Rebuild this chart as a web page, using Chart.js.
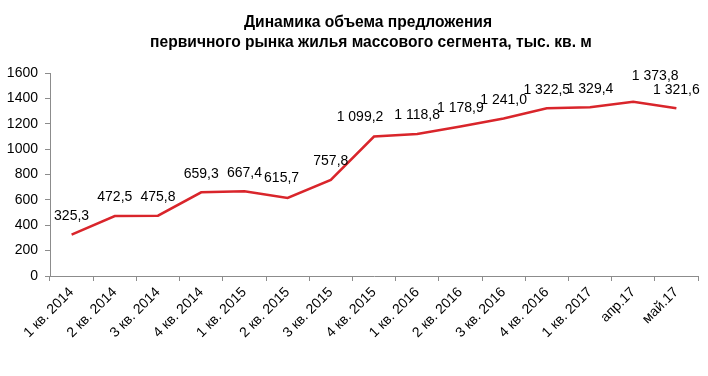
<!DOCTYPE html>
<html>
<head>
<meta charset="utf-8">
<script src="https://cdn.jsdelivr.net/npm/chart.js@4"></script>
<style>
  html, body { margin: 0; padding: 0; background: #fff; }
  #wrap { width: 708px; height: 376px; }
</style>
</head>
<body>
<div id="wrap"><canvas id="offerChart"></canvas></div>
<script>
// Данные графика
const periods = [
  "1 кв. 2014", "2 кв. 2014", "3 кв. 2014", "4 кв. 2014",
  "1 кв. 2015", "2 кв. 2015", "3 кв. 2015", "4 кв. 2015",
  "1 кв. 2016", "2 кв. 2016", "3 кв. 2016", "4 кв. 2016",
  "1 кв. 2017", "апр.17", "май.17"
];
const offerVolume = [
  325.3, 472.5, 475.8, 659.3, 667.4, 615.7, 757.8, 1099.2,
  1118.8, 1178.9, 1241.0, 1322.5, 1329.4, 1373.8, 1321.6
];
const yTicks = [0, 200, 400, 600, 800, 1000, 1200, 1400, 1600];
const titleLines = [
  "Динамика объема предложения",
  "первичного рынка жилья массового сегмента, тыс. кв. м"
];

const FONT = "'Liberation Sans', Arial, sans-serif";
const axisColor = "#8c8c8c";

// формат "1 099,2"
function fmt(v) {
  const s = v.toFixed(1).split(".");
  const intPart = s[0].replace(/\B(?=(\d{3})+(?!\d))/g, " ");
  return intPart + "," + s[1];
}

// сдвиги подписей, как в исходнике (вручную подвинутые)
const labelShift = { 5: [-6, -20], 7: [-14, -19], 13: [22, -26] };

const titlePlugin = {
  id: "twoLineTitle",
  afterDraw(chart) {
    const ctx = chart.ctx;
    ctx.save();
    ctx.font = "bold 15.6px " + FONT;
    ctx.fillStyle = "#000";
    ctx.textAlign = "center";
    ctx.textBaseline = "middle";
    ctx.fillText(titleLines[0], 368, 23);
    ctx.fillText(titleLines[1], 371, 43);
    ctx.restore();
  }
};

const valueLabels = {
  id: "valueLabels",
  afterDatasetsDraw(chart) {
    const ctx = chart.ctx;
    const meta = chart.getDatasetMeta(0);
    ctx.save();
    ctx.font = "14px " + FONT;
    ctx.fillStyle = "#000";
    ctx.textAlign = "center";
    ctx.textBaseline = "middle";
    meta.data.forEach((pt, i) => {
      const sh = labelShift[i] || [0, -18.5];
      ctx.fillText(fmt(offerVolume[i]), pt.x + sh[0], pt.y + sh[1]);
    });
    ctx.restore();
  }
};

const ctx = document.getElementById("offerChart").getContext("2d");
new Chart(ctx, {
  type: "line",
  data: {
    labels: periods,
    datasets: [{
      data: offerVolume,
      borderColor: "#d9252b",
      borderWidth: 2.5,
      pointRadius: 0,
      tension: 0,
      fill: false
    }]
  },
  options: {
    responsive: true,
    maintainAspectRatio: false,
    animation: false,
    layout: { padding: { top: 73, right: 10, left: 0, bottom: 0 } },
    plugins: {
      legend: { display: false },
      tooltip: { enabled: false }
    },
    scales: {
      x: {
        type: "category",
        offset: true,
        afterFit(scale) { scale.height = 100; },
        grid: {
          offset: true,
          drawOnChartArea: false,
          drawTicks: true,
          tickLength: 5,
          color: axisColor
        },
        border: { color: axisColor, width: 1 },
        ticks: {
          color: "#000",
          font: { family: FONT, size: 14 },
          minRotation: 45,
          maxRotation: 45,
          autoSkip: false,
          padding: 3
        }
      },
      y: {
        min: 0,
        max: 1600,
        afterFit(scale) { scale.width = 50; },
        afterBuildTicks(scale) {
          scale.ticks = yTicks.map(v => ({ value: v }));
        },
        grid: {
          drawOnChartArea: false,
          drawTicks: true,
          tickLength: 5,
          color: axisColor
        },
        border: { color: axisColor, width: 1 },
        ticks: {
          color: "#000",
          font: { family: FONT, size: 14 },
          padding: 7,
          callback: v => String(v)
        }
      }
    }
  },
  plugins: [titlePlugin, valueLabels]
});
</script>
</body>
</html>
